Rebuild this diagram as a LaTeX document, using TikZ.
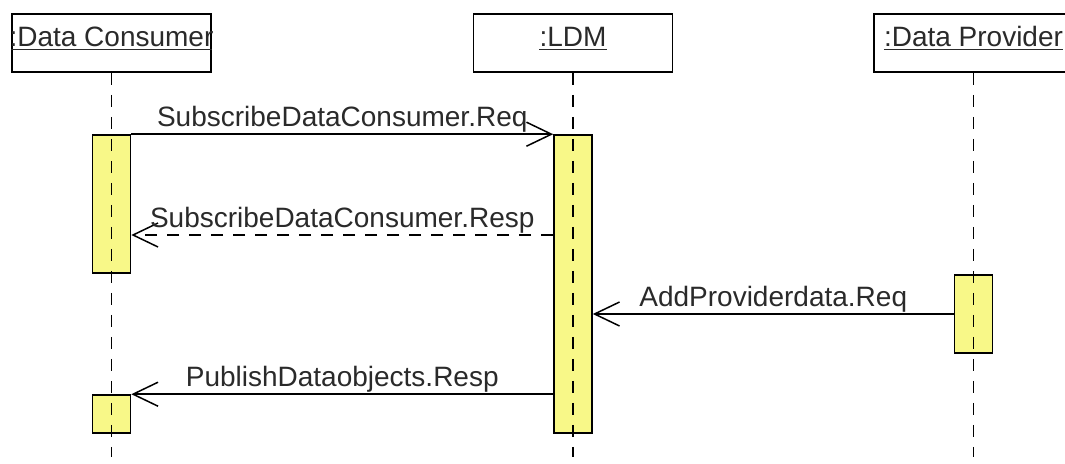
\documentclass[tikz,border=0pt]{standalone}
\usepackage{fontspec}
\setmainfont{Liberation Sans}
\usetikzlibrary{arrows.meta}

\definecolor{actyellow}{HTML}{F8F888}
\definecolor{txtgray}{HTML}{2A2A2A}

\tikzset{
  objbox/.style={draw, line width=1.6pt, minimum width=199pt, minimum height=58pt, inner sep=0pt},
  objtitle/.style={anchor=base, inner sep=0pt, text=txtgray},
  actbar/.style={draw, fill=actyellow, line width=1.6pt, minimum width=38pt, inner sep=0pt},
  lifeline/.style={line width=1.6pt, dash pattern=on 12pt off 10pt},
  msg/.style={line width=1.6pt, -{Straight Barb[length=25pt,width=24pt,line width=1.5pt]}},
  reply/.style={msg, dash pattern=on 12pt off 10pt},
  msglabel/.style={anchor=base, yshift=8pt, inner sep=0pt, text=txtgray}
}

\def\lineend{457}

\begin{document}
\begin{tikzpicture}[x=1pt, y=-1pt, font=\fontsize{28}{30}\selectfont]
        \clip (0,0) rectangle (1065,463);
        % objects
        \node[objbox] (dcbox) at (111.5,43) {};
        \node[objbox] (ldmbox) at (573,43) {};
        \node[objbox] (dpbox) at (973.5,43) {};
        \node[objtitle] (dctitle) at (111.5,46) {:Data Consumer};
        \node[objtitle] (ldmtitle) at (573,46) {:LDM};
        \node[objtitle] (dptitle) at (973.5,46) {:Data Provider};
        \begin{scope}[line width=1.3pt, txtgray]
            \clip (dcbox.south west) rectangle (dcbox.north east);
            \draw ([yshift=-3.5pt]dctitle.base west) -- ([yshift=-3.5pt]dctitle.base east);
        \end{scope}
        \draw[line width=1.3pt, txtgray] ([yshift=-3.5pt]ldmtitle.base west) -- ([yshift=-3.5pt]ldmtitle.base east);
        \draw[line width=1.3pt, txtgray] ([yshift=-3.5pt]dptitle.base west) -- ([yshift=-3.5pt]dptitle.base east);
        % activation bars
        \node[actbar, minimum height=138pt] (dcact1) at (111.5,204) {};
        \node[actbar, minimum height=38pt] (dcact2) at (111.5,414) {};
        \node[actbar, minimum height=298pt] (ldmact) at (573,284) {};
        \node[actbar, minimum height=78pt] (dpact) at (973.5,314) {};
        % lifelines
        \coordinate (bot) at (0,\lineend);
        \draw[lifeline] (dcbox.south) -- (dcbox.south |- bot);
        \draw[lifeline] (ldmbox.south) -- (ldmbox.south |- bot);
        \draw[lifeline] (dpbox.south) -- (dpbox.south |- bot);
        % messages
        \coordinate (resp) at (0,235);
        \draw[msg] (dcact1.north east) -- (ldmact.north west)
            node[msglabel, midway] {SubscribeDataConsumer.Req};
        \draw[reply] (ldmact.west |- resp) -- (dcact1.east |- resp)
            node[msglabel, midway] {SubscribeDataConsumer.Resp};
        \draw[msg] (dpact.west) -- (ldmact.east |- dpact.west)
            node[msglabel, midway] {AddProviderdata.Req};
        \draw[msg] (ldmact.west |- dcact2.north) -- (dcact2.north east)
            node[msglabel, midway] {PublishDataobjects.Resp};
    \end{tikzpicture}
\end{document}
